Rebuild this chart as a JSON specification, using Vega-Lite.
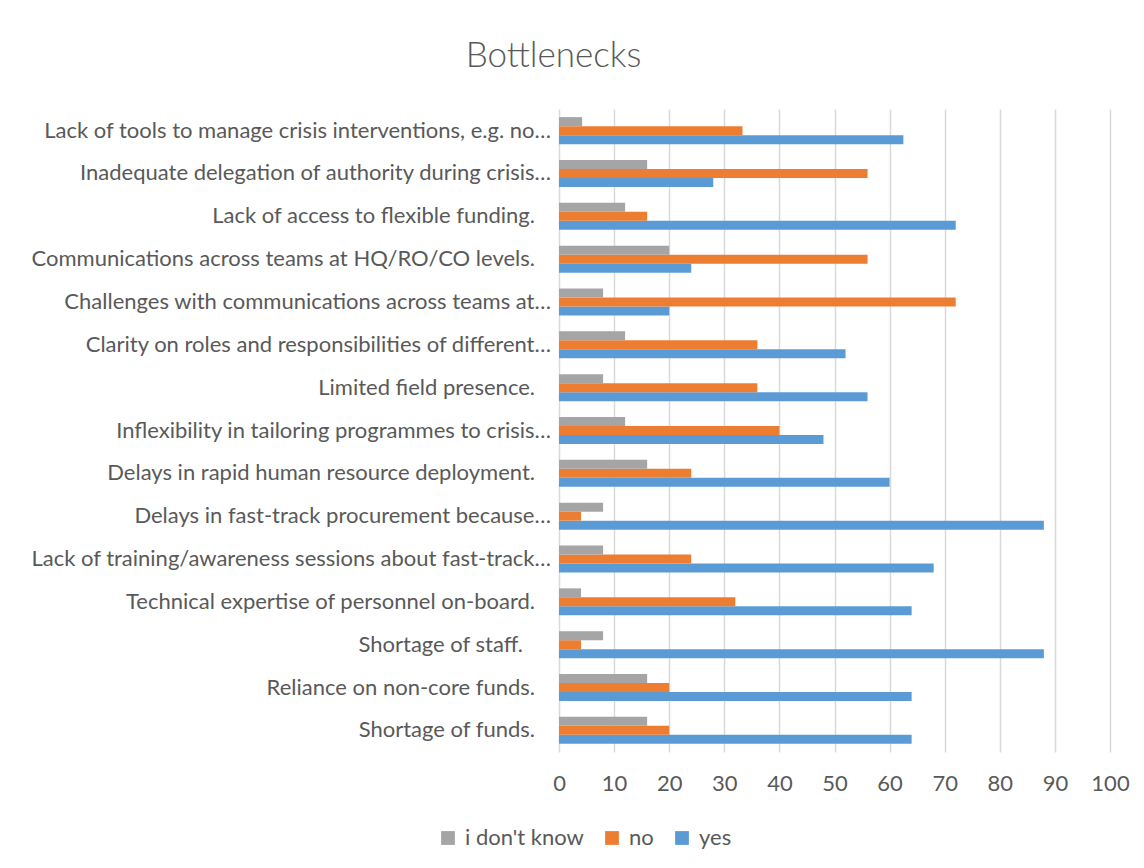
{
  "$schema": "https://vega.github.io/schema/vega-lite/v6.json",
  "width": 551,
  "height": 643,
  "autosize": {"type": "none"},
  "padding": {"left": 559, "top": 109, "right": 34, "bottom": 116},
  "background": "white",
  "title": {
    "text": "Bottlenecks",
    "anchor": "middle",
    "frame": "group",
    "dx": -281,
    "offset": 7,
    "baseline": "alphabetic",
    "font": "Lato",
    "fontWeight": 300,
    "fontSize": 35,
    "color": "#595959"
  },
  "data": {
    "values": [
      {"item": "Lack of tools to manage crisis interventions, e.g. no…", "response": "yes", "value": 62.5},
      {"item": "Lack of tools to manage crisis interventions, e.g. no…", "response": "no", "value": 33.3},
      {"item": "Lack of tools to manage crisis interventions, e.g. no…", "response": "i don't know", "value": 4.2},
      {"item": "Inadequate delegation of authority during crisis…", "response": "yes", "value": 28},
      {"item": "Inadequate delegation of authority during crisis…", "response": "no", "value": 56},
      {"item": "Inadequate delegation of authority during crisis…", "response": "i don't know", "value": 16},
      {"item": "Lack of access to flexible funding.", "response": "yes", "value": 72},
      {"item": "Lack of access to flexible funding.", "response": "no", "value": 16},
      {"item": "Lack of access to flexible funding.", "response": "i don't know", "value": 12},
      {"item": "Communications across teams at HQ/RO/CO levels.", "response": "yes", "value": 24},
      {"item": "Communications across teams at HQ/RO/CO levels.", "response": "no", "value": 56},
      {"item": "Communications across teams at HQ/RO/CO levels.", "response": "i don't know", "value": 20},
      {"item": "Challenges with communications across teams at…", "response": "yes", "value": 20},
      {"item": "Challenges with communications across teams at…", "response": "no", "value": 72},
      {"item": "Challenges with communications across teams at…", "response": "i don't know", "value": 8},
      {"item": "Clarity on roles and responsibilities of different…", "response": "yes", "value": 52},
      {"item": "Clarity on roles and responsibilities of different…", "response": "no", "value": 36},
      {"item": "Clarity on roles and responsibilities of different…", "response": "i don't know", "value": 12},
      {"item": "Limited field presence.", "response": "yes", "value": 56},
      {"item": "Limited field presence.", "response": "no", "value": 36},
      {"item": "Limited field presence.", "response": "i don't know", "value": 8},
      {"item": "Inflexibility in tailoring programmes to crisis…", "response": "yes", "value": 48},
      {"item": "Inflexibility in tailoring programmes to crisis…", "response": "no", "value": 40},
      {"item": "Inflexibility in tailoring programmes to crisis…", "response": "i don't know", "value": 12},
      {"item": "Delays in rapid human resource deployment.", "response": "yes", "value": 60},
      {"item": "Delays in rapid human resource deployment.", "response": "no", "value": 24},
      {"item": "Delays in rapid human resource deployment.", "response": "i don't know", "value": 16},
      {"item": "Delays in fast-track procurement because…", "response": "yes", "value": 88},
      {"item": "Delays in fast-track procurement because…", "response": "no", "value": 4},
      {"item": "Delays in fast-track procurement because…", "response": "i don't know", "value": 8},
      {"item": "Lack of training/awareness sessions about fast-track…", "response": "yes", "value": 68},
      {"item": "Lack of training/awareness sessions about fast-track…", "response": "no", "value": 24},
      {"item": "Lack of training/awareness sessions about fast-track…", "response": "i don't know", "value": 8},
      {"item": "Technical expertise of personnel on-board.", "response": "yes", "value": 64},
      {"item": "Technical expertise of personnel on-board.", "response": "no", "value": 32},
      {"item": "Technical expertise of personnel on-board.", "response": "i don't know", "value": 4},
      {"item": "Shortage of staff.", "response": "yes", "value": 88},
      {"item": "Shortage of staff.", "response": "no", "value": 4},
      {"item": "Shortage of staff.", "response": "i don't know", "value": 8},
      {"item": "Reliance on non-core funds.", "response": "yes", "value": 64},
      {"item": "Reliance on non-core funds.", "response": "no", "value": 20},
      {"item": "Reliance on non-core funds.", "response": "i don't know", "value": 16},
      {"item": "Shortage of funds.", "response": "yes", "value": 64},
      {"item": "Shortage of funds.", "response": "no", "value": 20},
      {"item": "Shortage of funds.", "response": "i don't know", "value": 16}
    ]
  },
  "encoding": {
    "y": {
      "field": "item",
      "type": "nominal",
      "sort": null,
      "scale": {"paddingInner": 0.37, "paddingOuter": 0.19},
      "axis": null
    }
  },
  "layer": [
    {
      "mark": {"type": "bar"},
      "encoding": {
        "yOffset": {
          "field": "response",
          "type": "nominal",
          "sort": ["i don't know", "no", "yes"],
          "scale": {"paddingInner": 0, "paddingOuter": 0}
        },
        "x": {
          "field": "value",
          "type": "quantitative",
          "scale": {"domain": [0, 100], "nice": false},
          "axis": {
            "title": null,
            "values": [0, 10, 20, 30, 40, 50, 60, 70, 80, 90, 100],
            "grid": true,
            "gridColor": "#d9d9d9",
            "gridWidth": 1.5,
            "domain": false,
            "ticks": false,
            "labelFlush": false,
            "labelOverlap": false,
            "labelFont": "Lato",
            "labelFontSize": 22,
            "labelColor": "#595959",
            "labelPadding": 21
          }
        },
        "color": {
          "field": "response",
          "type": "nominal",
          "scale": {
            "domain": ["i don't know", "no", "yes"],
            "range": ["#a5a5a5", "#ed7d31", "#5b9bd5"]
          },
          "legend": {
            "title": null,
            "orient": "none",
            "direction": "horizontal",
            "legendX": -122,
            "legendY": 718,
            "padding": 0,
            "symbolType": "square",
            "symbolSize": 190,
            "symbolStrokeWidth": 0,
            "labelFont": "Lato",
            "labelFontSize": 22,
            "labelColor": "#595959",
            "labelOffset": 6,
            "columnPadding": 17
          }
        }
      }
    },
    {
      "transform": [
        {"filter": "datum.response === 'yes' && test(/…$/, datum.item)"}
      ],
      "mark": {"type": "text", "align": "right", "baseline": "middle", "dx": -8, "font": "Lato", "fontSize": 22, "color": "#595959"},
      "encoding": {
        "x": {"datum": 0, "type": "quantitative"},
        "text": {"field": "item"}
      }
    },
    {
      "transform": [
        {"filter": "datum.response === 'yes' && !test(/…$/, datum.item) && datum.item !== 'Shortage of staff.'"}
      ],
      "mark": {"type": "text", "align": "right", "baseline": "middle", "dx": -24, "font": "Lato", "fontSize": 22, "color": "#595959"},
      "encoding": {
        "x": {"datum": 0, "type": "quantitative"},
        "text": {"field": "item"}
      }
    },
    {
      "transform": [
        {"filter": "datum.response === 'yes' && datum.item === 'Shortage of staff.'"}
      ],
      "mark": {"type": "text", "align": "right", "baseline": "middle", "dx": -36, "font": "Lato", "fontSize": 22, "color": "#595959"},
      "encoding": {
        "x": {"datum": 0, "type": "quantitative"},
        "text": {"field": "item"}
      }
    }
  ],
  "config": {
    "view": {"stroke": null}
  }
}
